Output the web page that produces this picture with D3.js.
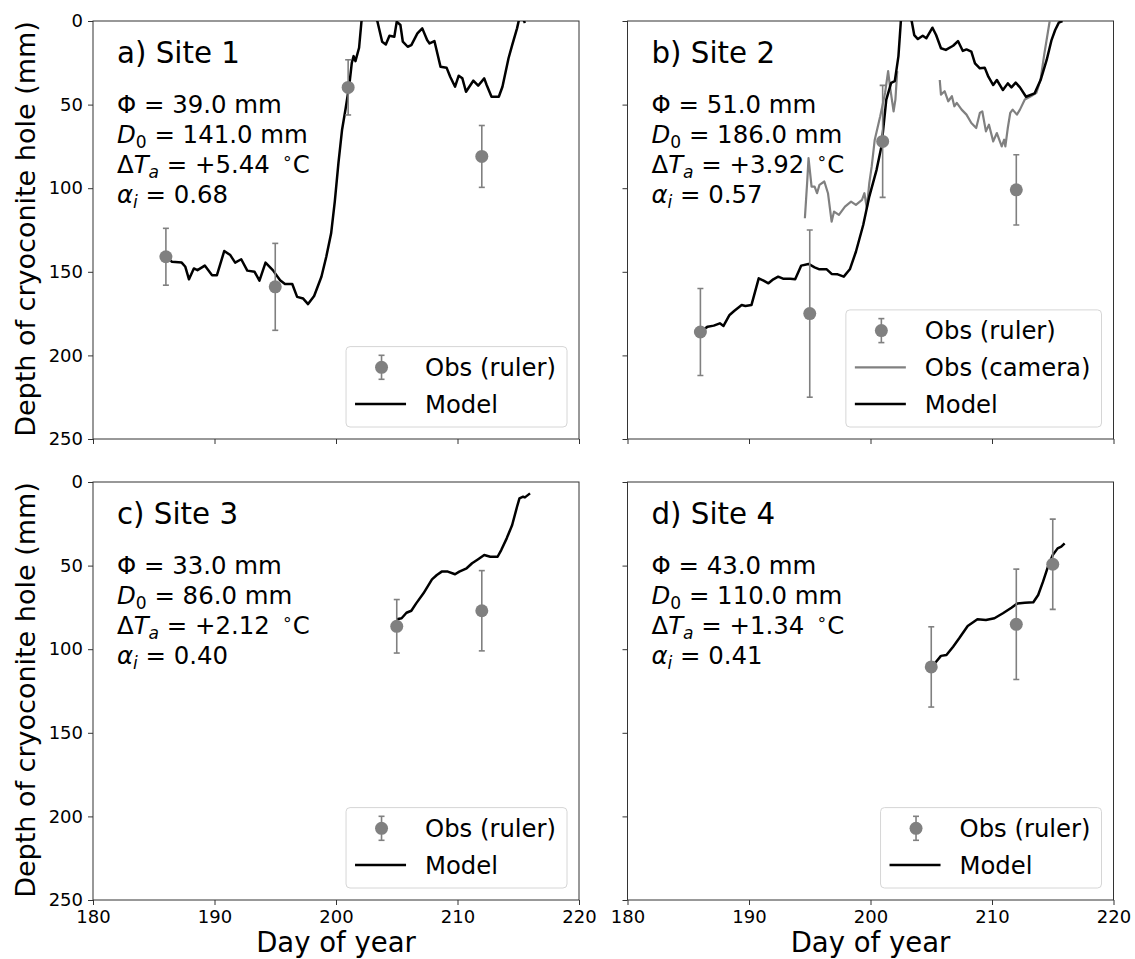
<!DOCTYPE html>
<html>
<head>
<meta charset="utf-8">
<script src="https://cdn.jsdelivr.net/npm/d3@7"></script>
<style>
  body { margin: 0; background: #fff; }
  text { font-family: "DejaVu Sans", sans-serif; fill: #000; }
</style>
</head>
<body>
<svg id="chart" width="1135" height="959"></svg>
<script>
// ---- data (day of year, depth in mm) ----
const site1Model = [[186.0,141.3],[186.5,144],[187.3,144.5],[187.6,147],[187.9,154.5],[188.3,148],[188.6,149],[189.2,146.3],
  [189.8,152],[190.2,152],[190.8,137.6],[191.3,140],[191.7,144.5],[192.2,142.5],[192.7,149.3],[193.3,150],[193.7,155.3],
  [194.2,144.5],[194.8,149],[195.4,155],[195.8,157.3],[196.4,157.3],[196.8,165],[197.3,166],[197.7,169.3],[198.2,164.5],
  [198.8,153],[199.2,141],[199.6,127],[199.9,108],[200.2,85],[200.5,65],[200.8,52],[201.1,38],[201.3,25],[201.45,21],
  [201.6,24],[201.9,16],[202.1,0],[202.4,-6],[202.9,-5],[203.4,0],[203.8,12.4],[204.1,14],[204.4,8.8],[204.8,9.4],
  [205.0,0.4],[205.3,2.4],[205.5,12.4],[205.9,15.4],[206.2,14.4],[206.7,7.4],[207.1,4.4],[207.5,11.4],[207.7,13.4],
  [208.1,12],[208.6,27.3],[209.1,27.9],[209.4,33.3],[209.8,39.3],[210.1,32.7],[210.4,34.3],[210.7,42.3],[211.3,35.7],
  [211.7,38.7],[212.2,34.3],[212.4,38.3],[212.8,45.3],[213.4,45.3],[213.7,39.3],[214.2,22.3],[214.5,14.4],[214.9,4.4],
  [215.1,-2],[215.35,-2],[215.55,1.2]];
const site1Obs = [[186,141,17],[195,159,26],[201,39.7,16.5],[212,81,18.5]];
const site1Params = ['39.0', '141.0', '+5.44', '0.68'];

const site2Model = [[186.0,185.8],[186.6,182.8],[187.1,182.2],[187.6,180.8],[187.9,182.4],[188.4,175.8],[188.8,173.3],
  [189.4,169.9],[189.7,170.5],[190.2,169.9],[190.8,153.9],[191.2,155.3],[191.6,156.9],[192.0,154.5],[192.4,152.9],
  [192.8,154.1],[193.4,154.1],[193.8,154.5],[194.3,146.3],[194.9,145.3],[195.4,147.3],[195.8,148.5],[196.4,148.5],
  [196.8,151.3],[197.3,151.5],[197.8,152.9],[198.3,148.5],[198.8,138],[199.4,122],[199.9,105],[200.5,89],[200.9,75],
  [201.3,47],[201.7,37],[202.0,36],[202.3,21],[202.5,0],[202.8,-6],[203.1,-5],[203.4,0.4],[203.6,8.4],[203.9,10.8],
  [204.3,8.8],[204.6,10.3],[205.1,4],[205.4,8.4],[205.8,16.3],[206.2,17.3],[206.8,14.8],[207.2,12],[207.6,17.9],
  [207.9,17],[208.3,18.3],[208.6,25.3],[209.0,28.3],[209.4,27.9],[209.7,33.3],[210.1,38.3],[210.4,35.3],[210.9,41.3],
  [211.3,37.3],[211.6,39.7],[211.95,36.9],[212.3,39.7],[212.8,45.3],[213.5,43.3],[214.0,35.3],[214.5,23.3],[214.9,11.4],
  [215.2,5.4],[215.5,1],[215.8,0]];
const site2CameraA = [[194.6,118],[194.8,95],[194.9,82],[195.15,99],[195.4,99],[195.6,103],[195.8,98],[196.2,96],
  [196.5,103],[196.8,120],[197.0,114],[197.4,116],[197.9,111],[198.4,108],[198.8,110],[199.3,107],[199.5,103],
  [199.7,112],[199.9,97],[200.1,87],[200.35,71],[200.8,57],[201.2,43],[201.45,30],[201.6,39],[201.9,54],[202.05,47],
  [202.2,30]];
const site2CameraB = [[205.7,35.3],[205.8,44],[206.1,42],[206.4,48],[206.7,45],[206.9,51],[207.1,49],[207.5,53],
  [207.9,56],[208.3,61],[208.7,64],[209.0,55],[209.2,54],[209.5,66],[209.75,62],[210.1,72],[210.4,67],[210.8,75],
  [211.0,71],[211.1,75],[211.3,64],[211.5,55],[211.7,53],[212.05,56],[212.3,53],[212.7,47],[213.2,45],[213.65,43],
  [214.0,35],[214.3,20],[214.75,0]];
const site2Obs = [[186,186,26],[195,175,50],[201,72,33.5],[212,101,21]];
const site2Params = ['51.0', '186.0', '+3.92', '0.57'];

const site3Model = [[205.0,82.1],[205.4,81.5],[205.8,78.2],[206.2,77],[206.6,72.6],[207.2,66.6],[207.9,58.2],[208.3,55.6],
  [208.7,53.6],[209.2,53.6],[209.8,55.2],[210.15,53.6],[210.75,51.6],[211.2,48.6],[211.7,46.2],[212.2,43.7],[212.7,44.7],
  [213.3,44.7],[213.6,40.7],[214.05,33.7],[214.5,25.7],[214.9,14.8],[215.1,9.8],[215.4,8.8],[215.55,9.2],[215.97,6.8]];
const site3Obs = [[205,86.3,16],[212,77,24]];
const site3Params = ['33.0', '86.0', '+2.12', '0.40'];

const site4Model = [[205.15,109.5],[205.4,107.5],[205.8,104],[206.25,103.5],[206.8,98.5],[207.3,93.5],[208.0,86.1],
  [208.8,82.1],[209.5,82.5],[210.2,81.5],[210.9,78.5],[211.6,75.2],[212.1,72.6],[212.7,72.2],[213.4,71.9],[213.8,67.6],
  [214.2,59.6],[214.6,50.7],[215.0,43.7],[215.4,39.7],[215.7,38.7],[215.98,36.7]];
const site4Obs = [[205,110.6,24],[212,85.1,33],[215,49.2,27]];
const site4Params = ['43.0', '110.0', '+1.34', '0.41'];

const xTicks = [180, 190, 200, 210, 220];
const yTicks = [0, 50, 100, 150, 200, 250];

const panels = [
  { title: 'a) Site 1', model: site1Model, camera: [], obs: site1Obs, params: site1Params, col: 0, row: 0 },
  { title: 'b) Site 2', model: site2Model, camera: [site2CameraA, site2CameraB], obs: site2Obs, params: site2Params, col: 1, row: 0 },
  { title: 'c) Site 3', model: site3Model, camera: [], obs: site3Obs, params: site3Params, col: 0, row: 1 },
  { title: 'd) Site 4', model: site4Model, camera: [], obs: site4Obs, params: site4Params, col: 1, row: 1 }
];

// ---- layout ----
const colX = [93, 627.5];
const rowY = [21, 482];
const W = 486, H = 418;
const GREY = '#808080';

const svg = d3.select('#chart');

// write a line of text made of styled parts
function richText(g, x, y, size, parts) {
  const t = g.append('text').attr('x', x).attr('y', y).style('font-size', size + 'px');
  let shift = 0;
  parts.forEach(p => {
    const s = t.append('tspan').text(p.t);
    let target = 0;
    if (p.sub) { target = size * 0.2; s.style('font-size', (size * 0.7) + 'px'); }
    if (p.sup) { target = -size * 0.38; s.style('font-size', (size * 0.7) + 'px'); }
    if (target !== shift) { s.attr('dy', target - shift); shift = target; }
    if (p.it) s.style('font-style', 'italic');
  });
  return t;
}

panels.forEach((p, i) => {
  const left = colX[p.col], top = rowY[p.row];
  const g = svg.append('g').attr('transform', `translate(${left},${top})`);

  const x = d3.scaleLinear().domain([180, 220]).range([0, W]);
  const y = d3.scaleLinear().domain([0, 250]).range([0, H]);

  const clipId = 'clip' + i;
  g.append('clipPath').attr('id', clipId)
    .append('rect').attr('width', W).attr('height', H);

  // axes
  const xAxis = d3.axisBottom(x).tickValues(xTicks).tickSize(5).tickPadding(5)
    .tickFormat(p.row === 1 ? d3.format('d') : () => '');
  const yAxis = d3.axisLeft(y).tickValues(yTicks).tickSize(5).tickPadding(5)
    .tickFormat(p.col === 0 ? d3.format('d') : () => '');

  const gx = g.append('g').attr('transform', `translate(0,${H})`).call(xAxis);
  const gy = g.append('g').call(yAxis);
  [gx, gy].forEach(a => {
    a.select('.domain').remove();
    a.selectAll('.tick line').attr('stroke', '#333');
    a.selectAll('.tick text').style('font-size', '18px').style('font-family', '"DejaVu Sans", sans-serif').attr('fill', '#000');
  });

  // spines
  g.append('rect').attr('width', W).attr('height', H)
    .attr('fill', 'none').attr('stroke', '#333').attr('stroke-width', 1);

  const plot = g.append('g').attr('clip-path', `url(#${clipId})`);
  const line = d3.line().x(d => x(d[0])).y(d => y(d[1]));

  // camera observations
  p.camera.forEach(seg => {
    plot.append('path').datum(seg).attr('d', line)
      .attr('fill', 'none').attr('stroke', GREY).attr('stroke-width', 2.2).attr('stroke-linejoin', 'round');
  });

  // model
  plot.append('path').datum(p.model).attr('d', line)
    .attr('fill', 'none').attr('stroke', '#000').attr('stroke-width', 2.5).attr('stroke-linejoin', 'round');

  // ruler observations with error bars
  const ob = plot.selectAll('.obs').data(p.obs).enter().append('g');
  ob.append('line')
    .attr('x1', d => x(d[0])).attr('x2', d => x(d[0]))
    .attr('y1', d => y(d[1] - d[2])).attr('y2', d => y(d[1] + d[2]))
    .attr('stroke', GREY).attr('stroke-width', 1.6);
  [-1, 1].forEach(sgn => {
    ob.append('line')
      .attr('x1', d => x(d[0]) - 3).attr('x2', d => x(d[0]) + 3)
      .attr('y1', d => y(d[1] + sgn * d[2])).attr('y2', d => y(d[1] + sgn * d[2]))
      .attr('stroke', GREY).attr('stroke-width', 1.6);
  });
  ob.append('circle').attr('cx', d => x(d[0])).attr('cy', d => y(d[1]))
    .attr('r', 6.5).attr('fill', GREY);

  // title and parameters
  g.append('text').attr('x', 24).attr('y', 42).style('font-size', '29.3px').text(p.title);
  const fs = 24.4, tx = 24;
  richText(g, tx, 92, fs, [{ t: 'Φ = ' + p.params[0] + ' mm' }]);
  richText(g, tx, 122, fs, [{ t: 'D', it: true }, { t: '0', sub: true }, { t: ' = ' + p.params[1] + ' mm' }]);
  richText(g, tx, 152, fs, [{ t: 'Δ' }, { t: 'T', it: true }, { t: 'a', it: true, sub: true },
    { t: ' = ' + p.params[2] + '\u2002' }, { t: '∘', sup: true }, { t: 'C' }]);
  richText(g, tx, 182, fs, [{ t: 'α', it: true }, { t: 'i', it: true, sub: true }, { t: ' = ' + p.params[3] }]);

  // legend
  const entries = [{ kind: 'obs', label: 'Obs (ruler)' }];
  if (p.camera.length) entries.push({ kind: 'camera', label: 'Obs (camera)' });
  entries.push({ kind: 'model', label: 'Model' });

  const rowH = 36.7;
  const lg = g.append('g');
  const box = lg.append('rect');
  const bottom = H - 12, right = W - 12;
  const firstC = bottom - 23 - rowH * (entries.length - 1);
  let maxW = 0;
  const items = entries.map((e, k) => {
    const cy = firstC + k * rowH;
    const item = lg.append('g').attr('transform', `translate(0,${cy})`);
    const txt = item.append('text').attr('x', 79).attr('y', 8.8).style('font-size', '24.3px').text(e.label);
    maxW = Math.max(maxW, txt.node().getComputedTextLength());
    if (e.kind === 'obs') {
      item.append('line').attr('x1', 35.5).attr('x2', 35.5).attr('y1', -12).attr('y2', 12)
        .attr('stroke', GREY).attr('stroke-width', 1.6);
      item.append('line').attr('x1', 32.5).attr('x2', 38.5).attr('y1', -12).attr('y2', -12).attr('stroke', GREY).attr('stroke-width', 1.6);
      item.append('line').attr('x1', 32.5).attr('x2', 38.5).attr('y1', 12).attr('y2', 12).attr('stroke', GREY).attr('stroke-width', 1.6);
      item.append('circle').attr('cx', 35.5).attr('cy', 0).attr('r', 6.5).attr('fill', GREY);
    } else {
      item.append('line').attr('x1', 9).attr('x2', 60).attr('y1', 0).attr('y2', 0)
        .attr('stroke', e.kind === 'camera' ? GREY : '#000').attr('stroke-width', e.kind === 'camera' ? 2.2 : 2.5);
    }
    return item;
  });
  const bw = 79 + maxW + 11;
  const bx = right - bw;
  const by = firstC - 20.7;
  box.attr('x', bx).attr('y', by).attr('width', bw).attr('height', bottom - by)
    .attr('rx', 4).attr('fill', '#fff').attr('fill-opacity', 0.8)
    .attr('stroke', '#d6d6d6').attr('stroke-width', 1);
  items.forEach(it => {
    const tr = it.attr('transform');
    it.attr('transform', tr.replace('translate(0,', `translate(${bx},`));
  });

  // axis titles
  if (p.col === 0) {
    svg.append('text')
      .attr('transform', `translate(34.5,${top + H / 2 - 1}) rotate(-90)`)
      .attr('text-anchor', 'middle').style('font-size', '27px')
      .text('Depth of cryoconite hole (mm)');
  }
  if (p.row === 1) {
    svg.append('text').attr('x', left + W / 2).attr('y', top + H + 52)
      .attr('text-anchor', 'middle').style('font-size', '27.5px').text('Day of year');
  }
});
</script>
</body>
</html>
